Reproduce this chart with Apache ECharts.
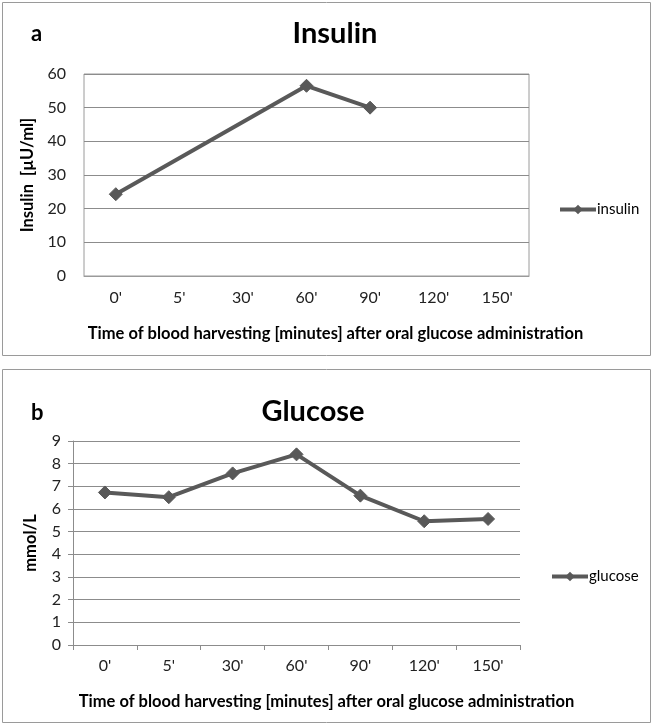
<!DOCTYPE html>
<html><head><meta charset="utf-8">
<script src="https://cdn.jsdelivr.net/npm/echarts@6/dist/echarts.min.js"></script>
<style>html,body{margin:0;padding:0;background:#fff;}#c{width:653px;height:726px;}</style>
</head><body><div id="c"></div>
<script>
const categories = ["0'", "5'", "30'", "60'", "90'", "120'", "150'"];
const insulin = [24.3, null, null, 56.5, 50.0, null, null];
const glucose = [6.73, 6.52, 7.57, 8.41, 6.59, 5.46, 5.56];
const insulinTicks = [0, 10, 20, 30, 40, 50, 60];
const glucoseTicks = [0, 1, 2, 3, 4, 5, 6, 7, 8, 9];

const FONT = 'Lato, "Open Sans", sans-serif';
const LINE = '#595959';
const GRIDC = '#8c8c8c';
const chart = echarts.init(document.getElementById('c'), null, {renderer: 'canvas'});

chart.setOption({
  animation: false,
  backgroundColor: '#fff',
  textStyle: {fontFamily: FONT},
  graphic: [
    {type: 'rect', shape: {x: 2.5, y: 2.5, width: 648, height: 353}, style: {fill: 'none', stroke: '#9a9a9a', lineWidth: 1}},
    {type: 'rect', shape: {x: 2.5, y: 369.5, width: 648, height: 353}, style: {fill: 'none', stroke: '#9a9a9a', lineWidth: 1}}
  ],
  title: [
    {text: 'a', left: 26, top: 18, textStyle: {fontFamily: FONT, fontSize: 22, fontWeight: 'bold', color: '#000'}},
    {text: 'Insulin', left: 330, textAlign: 'center', top: 14, textStyle: {fontFamily: FONT, fontSize: 29, fontWeight: 'bold', color: '#000'}},
    {text: 'b', left: 26, top: 397, textStyle: {fontFamily: FONT, fontSize: 22, fontWeight: 'bold', color: '#000'}},
    {text: 'Glucose', left: 308, textAlign: 'center', top: 392, textStyle: {fontFamily: FONT, fontSize: 29, fontWeight: 'bold', color: '#000'}}
  ],
  legend: [
    {data: ['insulin'], left: 553, top: 197, itemWidth: 36, itemHeight: 12,
     lineStyle: {width: 4, color: LINE}, itemStyle: {color: LINE},
     textStyle: {fontFamily: FONT, fontSize: 15, color: '#000', padding: [0, 0, 0, -4]}},
    {data: ['glucose'], left: 545, top: 564, itemWidth: 36, itemHeight: 12,
     lineStyle: {width: 4, color: LINE}, itemStyle: {color: LINE},
     textStyle: {fontFamily: FONT, fontSize: 15, color: '#000', padding: [0, 0, 0, -4]}}
  ],
  grid: [
    {left: 84, top: 74, width: 445, height: 202, show: true, borderColor: '#9a9a9a', borderWidth: 1, containLabel: false},
    {left: 73, top: 441, width: 447, height: 204, show: false, containLabel: false}
  ],
  xAxis: [
    {type: 'category', gridIndex: 0, data: categories, boundaryGap: true,
     axisLine: {show: true, lineStyle: {color: '#9a9a9a'}}, axisTick: {show: false},
     axisLabel: {fontFamily: FONT, fontSize: 16, color: '#222', margin: 14},
     name: 'Time of blood harvesting [minutes] after oral glucose administration',
     nameLocation: 'middle', nameGap: 49,
     nameTextStyle: {fontFamily: FONT, fontSize: 16.5, fontWeight: 'bold', color: '#000', padding: [0, 0, 0, 58]}},
    {type: 'category', gridIndex: 1, data: categories, boundaryGap: true,
     axisLine: {show: true, lineStyle: {color: '#8c8c8c'}},
     axisTick: {show: true, length: 5, lineStyle: {color: '#8c8c8c'}},
     axisLabel: {fontFamily: FONT, fontSize: 16, color: '#222', margin: 13},
     name: 'Time of blood harvesting [minutes] after oral glucose administration',
     nameLocation: 'middle', nameGap: 48,
     nameTextStyle: {fontFamily: FONT, fontSize: 16.5, fontWeight: 'bold', color: '#000', padding: [0, 0, 0, 60]}}
  ],
  yAxis: [
    {type: 'value', gridIndex: 0, min: insulinTicks[0], max: insulinTicks[insulinTicks.length - 1], interval: 10,
     axisLine: {show: false}, axisTick: {show: false},
     splitLine: {show: true, lineStyle: {color: GRIDC, width: 1}},
     axisLabel: {fontFamily: FONT, fontSize: 16, color: '#222', margin: 18},
     name: 'Insulin  [µU/ml]', nameLocation: 'middle', nameRotate: 90, nameGap: 43,
     nameTextStyle: {fontFamily: FONT, fontSize: 16.5, fontWeight: 'bold', color: '#000'}},
    {type: 'value', gridIndex: 1, min: glucoseTicks[0], max: glucoseTicks[glucoseTicks.length - 1], interval: 1,
     axisLine: {show: true, lineStyle: {color: '#8c8c8c'}},
     axisTick: {show: true, length: 5, lineStyle: {color: '#8c8c8c'}},
     splitLine: {show: true, lineStyle: {color: GRIDC, width: 1}},
     axisLabel: {fontFamily: FONT, fontSize: 16, color: '#222', margin: 12},
     name: 'mmol/L', nameLocation: 'middle', nameRotate: 90, nameGap: 34,
     nameTextStyle: {fontFamily: FONT, fontSize: 16.5, fontWeight: 'bold', color: '#000'}}
  ],
  series: [
    {name: 'insulin', type: 'line', xAxisIndex: 0, yAxisIndex: 0, data: insulin, connectNulls: true,
     symbol: 'diamond', symbolSize: 13, showAllSymbol: true,
     lineStyle: {color: LINE, width: 4}, itemStyle: {color: LINE, borderColor: LINE}},
    {name: 'glucose', type: 'line', xAxisIndex: 1, yAxisIndex: 1, data: glucose,
     symbol: 'diamond', symbolSize: 13, showAllSymbol: true,
     lineStyle: {color: LINE, width: 4}, itemStyle: {color: LINE, borderColor: LINE}}
  ]
});
</script></body></html>
